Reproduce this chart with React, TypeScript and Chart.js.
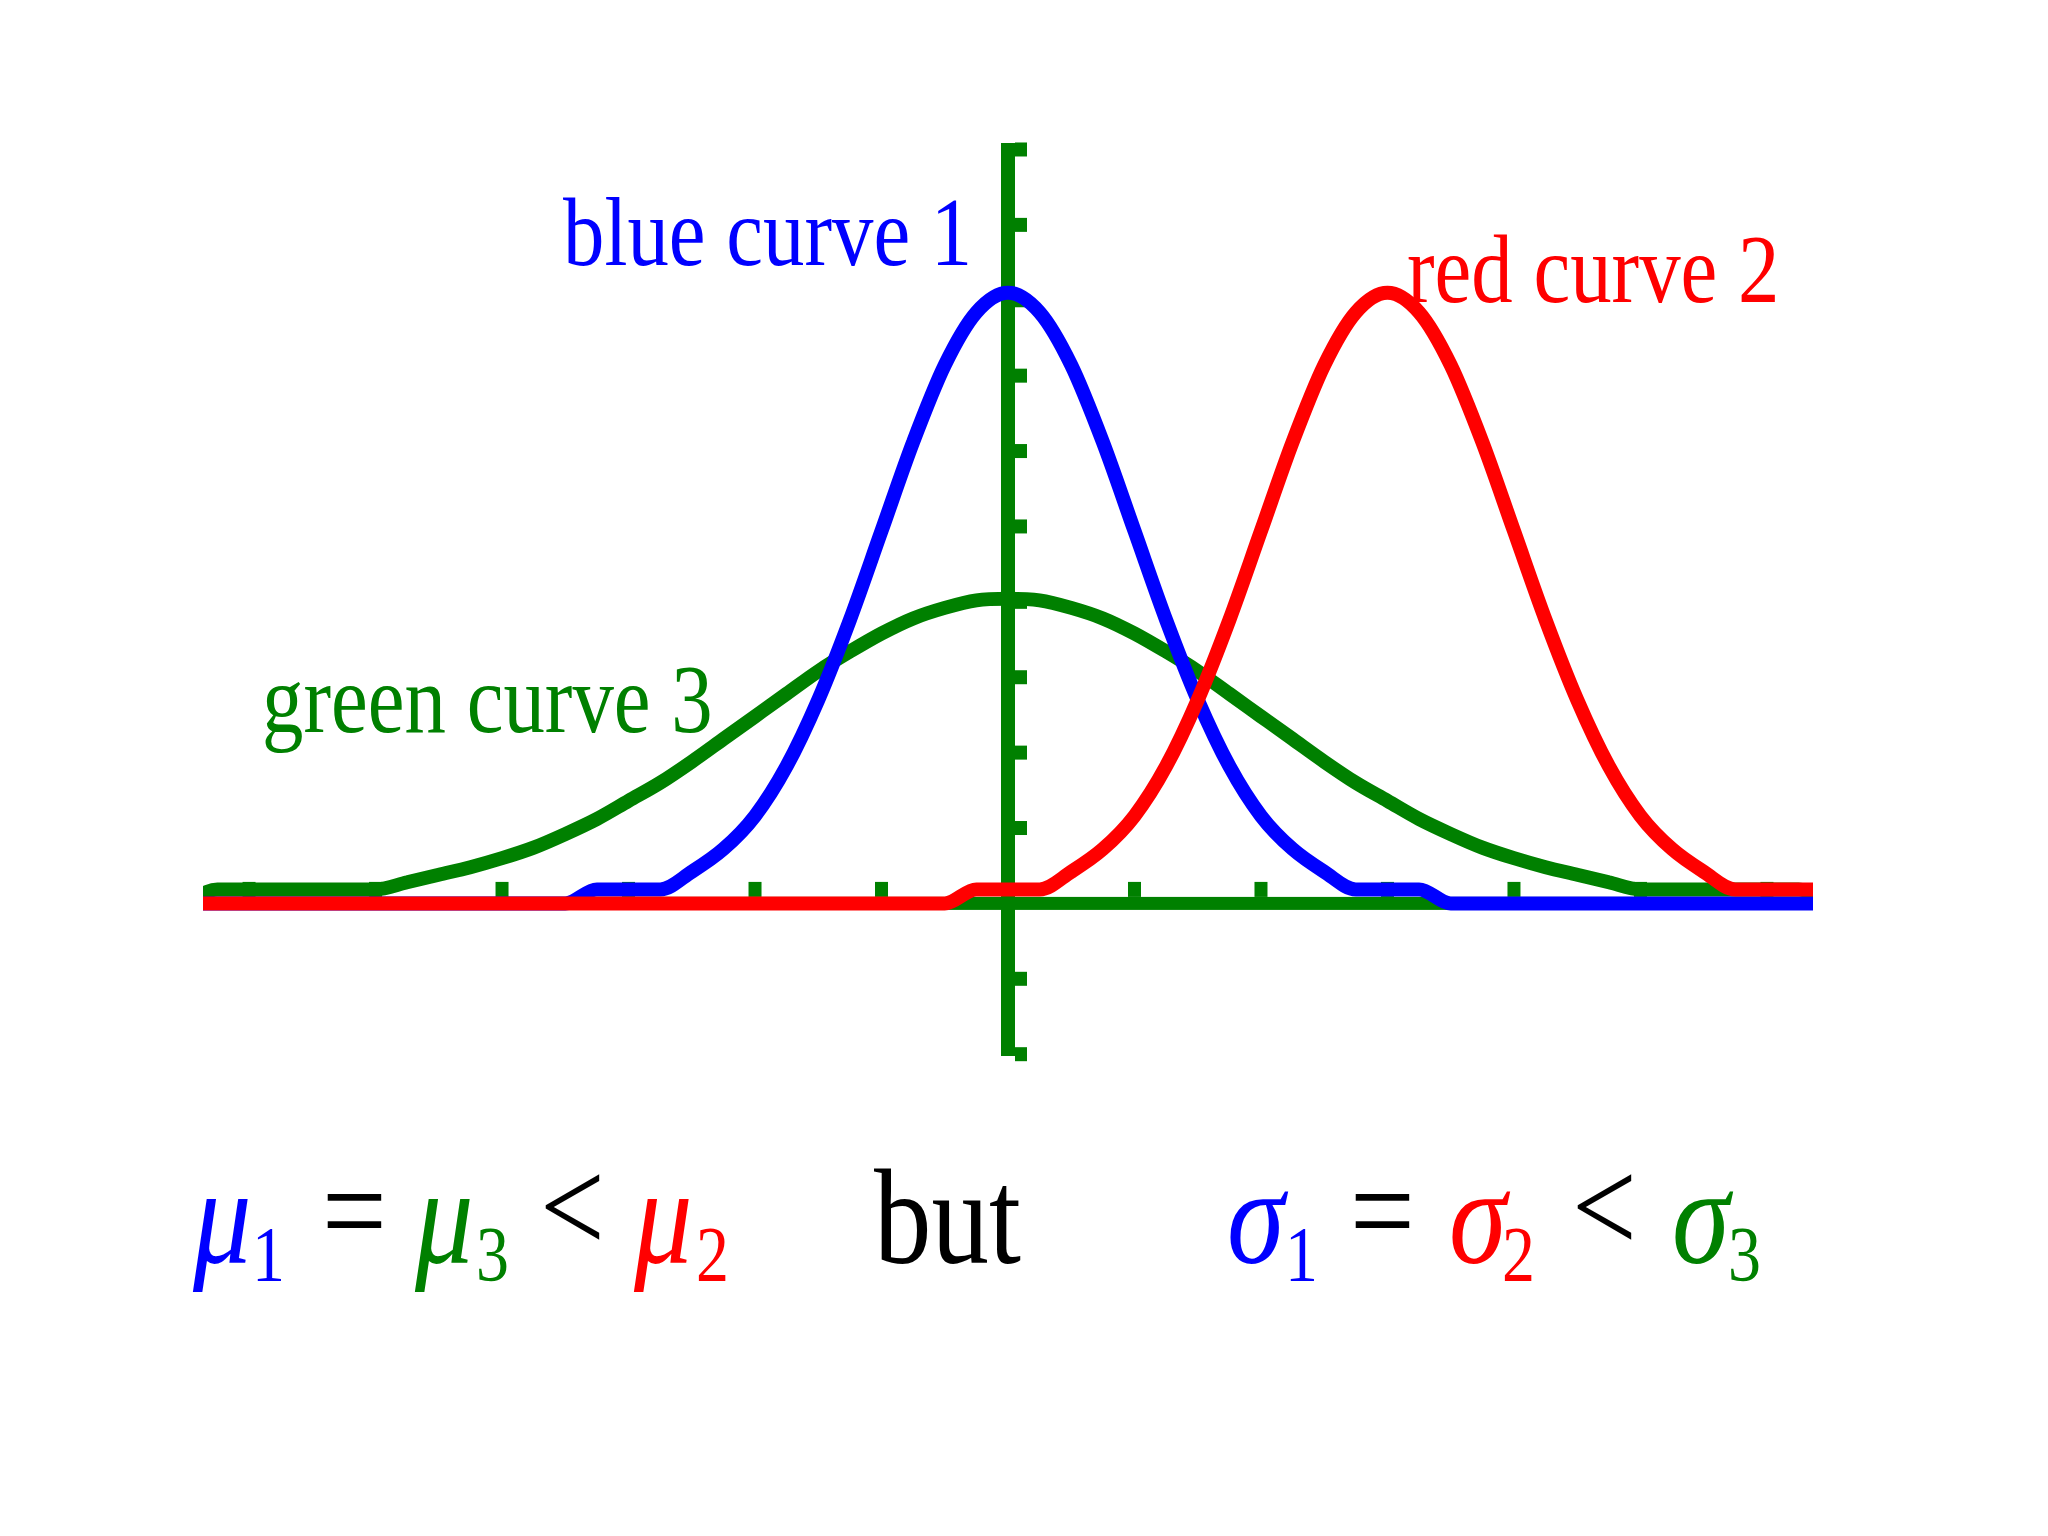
import React, { useEffect, useRef } from "react";
import { Chart, registerables } from "chart.js";

Chart.register(...registerables);

// ---- data ----
const X_VALUES = [
  -6.5, -6.25, -6, -5.75, -5.5, -5.25, -5, -4.75, -4.5, -4.25, -4, -3.75, -3.5,
  -3.25, -3, -2.75, -2.5, -2.25, -2, -1.75, -1.5, -1.25, -1, -0.75, -0.5, -0.25,
  0, 0.25, 0.5, 0.75, 1, 1.25, 1.5, 1.75, 2, 2.25, 2.5, 2.75, 3, 3.25, 3.5, 3.75,
  4, 4.25, 4.5, 4.75, 5, 5.25, 5.5, 5.75, 6, 6.25, 6.5,
];

const BLUE_CURVE_1 = [
  0, 0, 0, 0, 0, 0, 0, 0, 0, 0, 0, 0, 0,
  0.0093, 0.0093, 0.0093, 0.021, 0.036, 0.058, 0.091, 0.135, 0.188, 0.247, 0.306, 0.357, 0.392,
  0.405,
  0.392, 0.357, 0.306, 0.247, 0.188, 0.135, 0.091, 0.058, 0.036, 0.021, 0.0093, 0.0093, 0.0093,
  0, 0, 0, 0, 0, 0, 0, 0, 0, 0, 0, 0, 0,
];

const RED_CURVE_2 = [
  0, 0, 0, 0, 0, 0, 0, 0, 0, 0, 0, 0, 0, 0, 0, 0, 0, 0, 0, 0, 0, 0, 0, 0, 0,
  0.0093, 0.0093, 0.0093, 0.021, 0.036, 0.058, 0.091, 0.135, 0.188, 0.247, 0.306, 0.357, 0.392,
  0.405,
  0.392, 0.357, 0.306, 0.247, 0.188, 0.135, 0.091, 0.058, 0.036, 0.021, 0.0093, 0.0093, 0.0093, 0.0093,
];

const GREEN_CURVE_3 = [
  0, 0.0093, 0.0093, 0.0093, 0.0093, 0.0093, 0.0093, 0.014, 0.019, 0.024, 0.03, 0.037, 0.046,
  0.056, 0.068, 0.08, 0.094, 0.109, 0.124, 0.139, 0.154, 0.167, 0.179, 0.189, 0.196, 0.201,
  0.202,
  0.201, 0.196, 0.189, 0.179, 0.167, 0.154, 0.139, 0.124, 0.109, 0.094, 0.08, 0.068, 0.056,
  0.046, 0.037, 0.03, 0.024, 0.019, 0.014, 0.0093, 0.0093, 0.0093, 0.0093, 0.0093, 0.0093, 0,
];

const X_TICKS = [-6, -5, -4, -3, -2, -1, 1, 2, 3, 4, 5, 6];
const Y_TICKS = [-0.1, -0.05, 0.05, 0.1, 0.15, 0.2, 0.25, 0.3, 0.35, 0.4, 0.45, 0.5];

const X_MIN = -6.364;
const X_MAX = 6.364;
const Y_MIN = -0.1012;
const Y_MAX = 0.5043;

// ---- styles ----
const BLUE = "#0000ff";
const RED = "#ff0000";
const GREEN = "#008000";
const BLACK = "#000000";
const SERIF = '"Liberation Serif", "Times New Roman", serif';
const SQUEEZE = 0.845;

const CURVE_LABELS = [
  { text: "blue curve 1", color: BLUE, x: -3.518, y: 0.4232 },
  { text: "red curve 2", color: RED, x: 3.154, y: 0.3991 },
  { text: "green curve 3", color: GREEN, x: -5.897, y: 0.1139 },
];

const CAPTION = [
  { t: "\u03bc", c: BLUE, x: 193, b: 1263, s: 138, i: true },
  { t: "1", c: BLUE, x: 252, b: 1280, s: 78, i: false },
  { t: "=", c: BLACK, x: 322, b: 1256, s: 136, i: false },
  { t: "\u03bc", c: GREEN, x: 415, b: 1263, s: 138, i: true },
  { t: "3", c: GREEN, x: 476, b: 1280, s: 78, i: false },
  { t: "<", c: BLACK, x: 540, b: 1252, s: 136, i: false },
  { t: "\u03bc", c: RED, x: 634, b: 1263, s: 138, i: true },
  { t: "2", c: RED, x: 696, b: 1280, s: 78, i: false },
  { t: "but", c: BLACK, x: 874, b: 1263, s: 136, i: false },
  { t: "\u03c3", c: BLUE, x: 1227, b: 1263, s: 138, i: true },
  { t: "1", c: BLUE, x: 1285, b: 1280, s: 78, i: false },
  { t: "=", c: BLACK, x: 1350, b: 1256, s: 136, i: false },
  { t: "\u03c3", c: RED, x: 1449, b: 1263, s: 138, i: true },
  { t: "2", c: RED, x: 1502, b: 1280, s: 78, i: false },
  { t: "<", c: BLACK, x: 1572, b: 1252, s: 136, i: false },
  { t: "\u03c3", c: GREEN, x: 1672, b: 1263, s: 138, i: true },
  { t: "3", c: GREEN, x: 1728, b: 1280, s: 78, i: false },
];

function drawSqueezed(ctx: CanvasRenderingContext2D, text: string, x: number, y: number, font: string, color: string) {
  ctx.save();
  ctx.font = font;
  ctx.fillStyle = color;
  ctx.textAlign = "left";
  ctx.textBaseline = "alphabetic";
  ctx.translate(x, y);
  ctx.scale(SQUEEZE, 1);
  ctx.fillText(text, 0, 0);
  ctx.restore();
}

const axesPlugin = {
  id: "crossAxes",
  beforeDatasetsDraw(chart: any) {
    const ctx: CanvasRenderingContext2D = chart.ctx;
    const xs = chart.scales.x;
    const ys = chart.scales.y;
    const x0 = xs.getPixelForValue(0);
    const y0 = ys.getPixelForValue(0);
    ctx.save();
    ctx.fillStyle = GREEN;
    // horizontal axis
    const xl = xs.getPixelForValue(X_MIN);
    const xr = xs.getPixelForValue(X_MAX);
    ctx.fillRect(xl, y0 - 6.5, xr - xl, 13);
    // vertical axis
    const yt = ys.getPixelForValue(Y_MAX);
    const yb = ys.getPixelForValue(Y_MIN);
    ctx.fillRect(x0 - 7, yt, 14, yb - yt);
    // x ticks (stubs above the axis)
    for (const t of X_TICKS) {
      const px = xs.getPixelForValue(t);
      ctx.fillRect(px - 6.5, y0 - 6.5 - 15, 13, 15);
    }
    // y ticks (stubs right of the axis)
    for (const t of Y_TICKS) {
      const py = ys.getPixelForValue(t);
      ctx.fillRect(x0 + 7, py - 7, 12, 14);
    }
    ctx.restore();
  },
  afterDatasetsDraw(chart: any) {
    const ctx: CanvasRenderingContext2D = chart.ctx;
    const xs = chart.scales.x;
    const ys = chart.scales.y;
    for (const l of CURVE_LABELS) {
      drawSqueezed(ctx, l.text, xs.getPixelForValue(l.x), ys.getPixelForValue(l.y), `98px ${SERIF}`, l.color);
    }
    for (const tok of CAPTION) {
      const font = `${tok.i ? "italic " : ""}${tok.s}px ${SERIF}`;
      drawSqueezed(ctx, tok.t, tok.x, tok.b, font, tok.c);
    }
  },
};

function points(ys: number[]) {
  return X_VALUES.map((x, i) => ({ x, y: ys[i] }));
}

const lineStyle = {
  borderWidth: 14,
  pointRadius: 0,
  cubicInterpolationMode: "monotone" as const,
  borderCapStyle: "butt" as const,
  borderJoinStyle: "bevel" as const,
  fill: false,
  clip: { left: 0, right: 0, top: 20, bottom: 20 },
};

export default function App() {
  const canvasRef = useRef<HTMLCanvasElement>(null);

  useEffect(() => {
    if (!canvasRef.current) return;
    const chart = new Chart(canvasRef.current, {
      type: "line",
      data: {
        datasets: [
          { label: "red curve 2", data: points(RED_CURVE_2), borderColor: RED, order: 0, ...lineStyle },
          { label: "blue curve 1", data: points(BLUE_CURVE_1), borderColor: BLUE, order: 1, ...lineStyle },
          { label: "green curve 3", data: points(GREEN_CURVE_3), borderColor: GREEN, order: 2, ...lineStyle },
        ],
      },
      options: {
        responsive: false,
        maintainAspectRatio: false,
        animation: false,
        devicePixelRatio: 1,
        layout: { padding: { left: 203, right: 235, top: 143, bottom: 480 } },
        plugins: {
          legend: { display: false },
          tooltip: { enabled: false },
          title: { display: false },
        },
        scales: {
          x: { type: "linear", min: X_MIN, max: X_MAX, display: false },
          y: { type: "linear", min: Y_MIN, max: Y_MAX, display: false },
        },
      },
      plugins: [axesPlugin],
    } as any);
    return () => chart.destroy();
  }, []);

  return (
    <div style={{ position: "fixed", left: 0, top: 0, width: 2048, height: 1536, background: "#ffffff" }}>
      <canvas ref={canvasRef} width={2048} height={1536} style={{ width: 2048, height: 1536, display: "block" }} />
    </div>
  );
}
